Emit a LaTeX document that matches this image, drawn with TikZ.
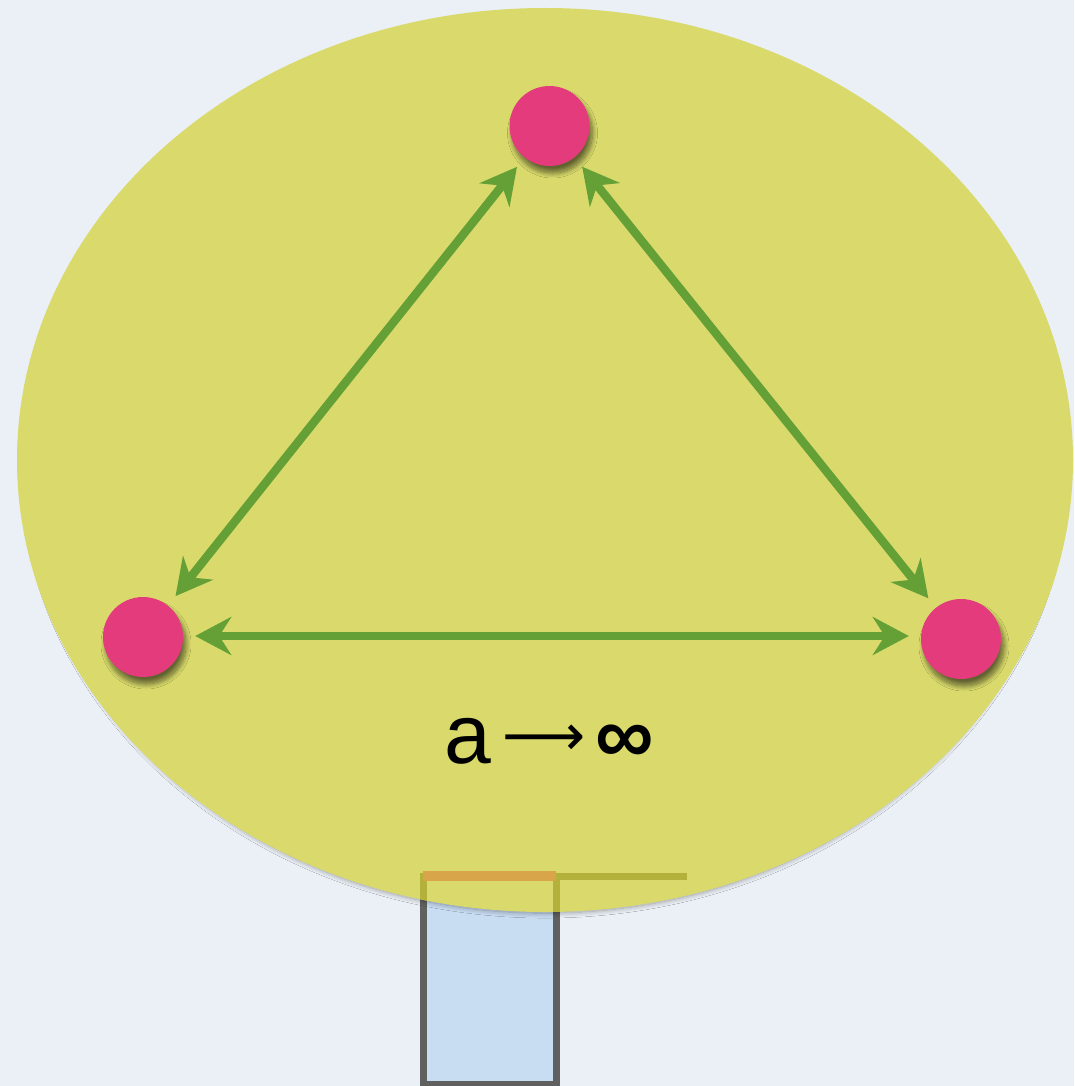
\documentclass[tikz,border=0pt]{standalone}
\usepackage{fontspec}
\setmainfont{Liberation Sans}
\newfontfamily\symfont{DejaVu Sans}
\usetikzlibrary{arrows.meta,shadows.blur}
\definecolor{paper}{RGB}{235,240,246}
\definecolor{yel}{RGB}{217,218,107}
\definecolor{olive}{RGB}{179,176,60}
\definecolor{dot}{RGB}{227,59,124}
\definecolor{grn}{RGB}{101,160,54}
\definecolor{rectfill}{RGB}{200,220,242}
\definecolor{rectline}{RGB}{96,96,96}
\definecolor{org}{RGB}{217,165,74}
\tikzset{
  dotnode/.style={circle,fill=dot,minimum size=80pt,inner sep=0pt,
    blur shadow={shadow xshift=3pt,shadow yshift=-7pt,shadow blur radius=5pt,shadow blur steps=12,shadow opacity=55}},
  dbl/.style={draw=grn,line width=8.5pt,{Stealth[length=36pt,width=38pt,inset=12pt]}-{Stealth[length=36pt,width=38pt,inset=12pt]},shorten <=12pt,shorten >=12pt}
}
\begin{document}
\begin{tikzpicture}[x=1pt,y=-1pt]
\useasboundingbox (0,0) rectangle (1074,1086);
\fill[paper] (0,0) rectangle (1074,1086);
% box below
\filldraw[fill=rectfill,draw=rectline,line width=7pt] (423.5,876) rectangle (556,1084);
% ellipse
\fill[yel,blur shadow={shadow scale=0.985,shadow xshift=0pt,shadow yshift=-8pt,shadow blur radius=5pt,shadow blur steps=12,shadow opacity=35}] (545,460) ellipse [x radius=528,y radius=452];
\begin{scope}
\clip (545,460) ellipse [x radius=528,y radius=452];
\draw[olive,line width=7pt] (423.5,1000) -- (423.5,876) -- (556,876) -- (556,1000);
\end{scope}
\draw[olive,line width=7pt] (556,876) -- (687,876);
\draw[org,line width=10pt] (423,875.5) -- (556,875.5);
% dots
\node[dotnode] (t) at (549.5,126) {};
\node[dotnode] (l) at (143,637) {};
\node[dotnode] (r) at (961,639) {};
\draw[dbl] (t) -- (l);
\draw[dbl] (t) -- (r);
\draw[dbl] ([yshift=1pt]l.east) -- ([yshift=3pt]r.west);
\node[anchor=base west,inner sep=0pt] (lab) at (444,763) {\fontsize{84}{96}\selectfont a\hspace{12pt}\raisebox{8pt}{\symfont\fontsize{58}{60}\selectfont ⟶}\hspace{9pt}{\bfseries\fontsize{82}{90}\selectfont ∞}};
\end{tikzpicture}
\end{document}
